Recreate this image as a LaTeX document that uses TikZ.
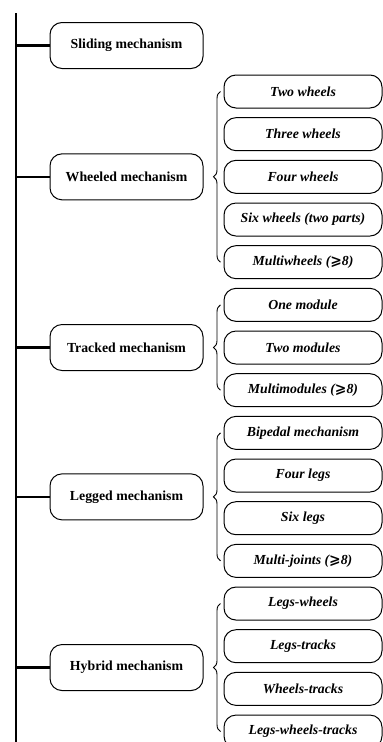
\documentclass[tikz,border=0pt]{standalone}
\usepackage{fontspec}
\setmainfont{Liberation Serif}
\newfontfamily\symfont{DejaVu Sans}
\usetikzlibrary{positioning,calc,decorations.pathreplacing}
\newcommand{\geqsl}{{\symfont\char"2A7E}}
\tikzset{
  mainbox/.style={draw, line width=1pt, rounded corners=12pt, inner sep=0pt,
    minimum width=153pt, minimum height=46pt, font=\fontsize{13.8}{16}\selectfont\bfseries},
  subbox/.style={draw, line width=1pt, rounded corners=12pt, inner sep=0pt,
    minimum width=158pt, minimum height=33pt, font=\fontsize{13.8}{16}\selectfont\bfseries\itshape},
  spine/.style={line width=2.5pt},
  branch/.style={line width=2.5pt},
  grp/.style={decorate, decoration={brace, amplitude=7pt}, line width=0.9pt}
}
\begin{document}
\begin{tikzpicture}[x=1pt, y=-1pt, node distance=8.67pt]
  \useasboundingbox (0,0) rectangle (383,742);
  % sub-types
  \node[subbox] (w2) at (303,91.5) {Two wheels};
  \node[subbox, below=of w2] (w3) {Three wheels};
  \node[subbox, below=of w3] (w4) {Four wheels};
  \node[subbox, below=of w4] (w6) {Six wheels (two parts)};
  \node[subbox, below=of w6] (w8) {Multiwheels (\geqsl8)};
  \node[subbox, below=of w8] (t1) {One module};
  \node[subbox, below=of t1] (t2) {Two modules};
  \node[subbox, below=of t2] (t8) {Multimodules (\geqsl8)};
  \node[subbox, below=of t8] (l2) {Bipedal mechanism};
  \node[subbox, below=of l2] (l4) {Four legs};
  \node[subbox, below=of l4] (l6) {Six legs};
  \node[subbox, below=of l6] (l8) {Multi-joints (\geqsl8)};
  \node[subbox, below=of l8] (hlw) {Legs-wheels};
  \node[subbox, below=of hlw] (hlt) {Legs-tracks};
  \node[subbox, below=of hlt] (hwt) {Wheels-tracks};
  \node[subbox, below=of hwt] (hlwt) {Legs-wheels-tracks};

  % mechanisms
  \node[mainbox] (slide) at (126.5,45.5) {Sliding mechanism};
  \node[mainbox] (wheel) at (slide |- w4) {Wheeled mechanism};
  \node[mainbox] (track) at (slide |- t2) {Tracked mechanism};
  \node[mainbox] (leg) at ($(slide |- l4)!0.5!(slide |- l6)$) {Legged mechanism};
  \node[mainbox] (hyb) at ($(slide |- hlt)!0.5!(slide |- hwt)$) {Hybrid mechanism};

  % spine and branches
  \coordinate (top) at (16,13);
  \coordinate (bot) at (16,742);
  \draw[spine] (top) -- (bot);
  \foreach \n in {slide,wheel,track,leg,hyb}
    \draw[branch] (\n.west -| top) -- (\n.west);

  % braces
  \draw[grp] ($(w8.west)+(-3,0)$) -- ($(w2.west)+(-3,0)$);
  \draw[grp] ($(t8.west)+(-3,0)$) -- ($(t1.west)+(-3,0)$);
  \draw[grp] ($(l8.west)+(-3,0)$) -- ($(l2.west)+(-3,0)$);
  \draw[grp] ($(hlwt.west)+(-3,0)$) -- ($(hlw.west)+(-3,0)$);
\end{tikzpicture}
\end{document}
